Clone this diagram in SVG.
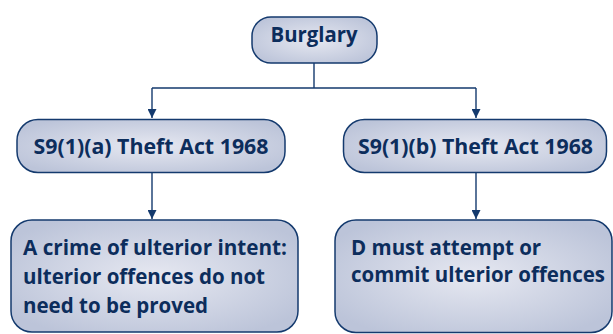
<svg xmlns="http://www.w3.org/2000/svg" width="613" height="334" viewBox="0 0 613 334">
  <style>
    .box { fill: url(#boxFill); stroke: #143a6e; stroke-width: 1.5; }
    .lbl { font-family: "Open Sans", "Liberation Sans", sans-serif; font-weight: 700; font-size: 20.5px; fill: #0c2d5c; }
    .mid { text-anchor: middle; }
    .wire { fill: none; stroke: #143a6e; stroke-width: 1.4; }
  </style>
  <defs>
    <radialGradient id="boxFill" cx="50%" cy="50%" r="60%">
      <stop offset="0" stop-color="#e6e8f1"/>
      <stop offset="1" stop-color="#bcc4d9"/>
    </radialGradient>
    <marker id="arrow" viewBox="0 0 10 10" refX="10" refY="5" markerWidth="9" markerHeight="9" markerUnits="userSpaceOnUse" orient="auto">
      <path d="M0,0 L10,5 L0,10 Z" fill="#143a6e"/>
    </marker>
  </defs>

  <g id="connectors">
    <path class="wire" d="M314,63 V88 M152,88 H476"/>
    <path class="wire" d="M152,88 V118" marker-end="url(#arrow)"/>
    <path class="wire" d="M476,88 V118" marker-end="url(#arrow)"/>
    <path class="wire" d="M152,173 V219" marker-end="url(#arrow)"/>
    <path class="wire" d="M476,173 V219" marker-end="url(#arrow)"/>
  </g>

  <g id="burglary">
    <rect class="box" x="252" y="17" width="125" height="46" rx="19"/>
    <text class="lbl mid" x="314" y="42" textLength="87" lengthAdjust="spacingAndGlyphs">Burglary</text>
  </g>

  <g id="s91a">
    <rect class="box" x="17" y="119.5" width="268" height="53" rx="21"/>
    <text class="lbl mid" x="151" y="154" textLength="235" lengthAdjust="spacingAndGlyphs">S9(1)(a) Theft Act 1968</text>
  </g>

  <g id="s91b">
    <rect class="box" x="343.5" y="119.5" width="263" height="53" rx="21"/>
    <text class="lbl mid" x="475.5" y="154" textLength="235" lengthAdjust="spacingAndGlyphs">S9(1)(b) Theft Act 1968</text>
  </g>

  <g id="ulterior-intent">
    <rect class="box" x="11" y="220" width="287" height="112" rx="21"/>
    <text class="lbl" x="23" y="255" textLength="264" lengthAdjust="spacingAndGlyphs">A crime of ulterior intent:</text>
    <text class="lbl" x="23" y="284">ulterior offences do not</text>
    <text class="lbl" x="23" y="313">need to be proved</text>
  </g>

  <g id="ulterior-offences">
    <rect class="box" x="335" y="220" width="277" height="112.5" rx="21"/>
    <text class="lbl" x="351" y="255">D must attempt or</text>
    <text class="lbl" x="351" y="282" textLength="254" lengthAdjust="spacingAndGlyphs">commit ulterior offences</text>
  </g>
</svg>
